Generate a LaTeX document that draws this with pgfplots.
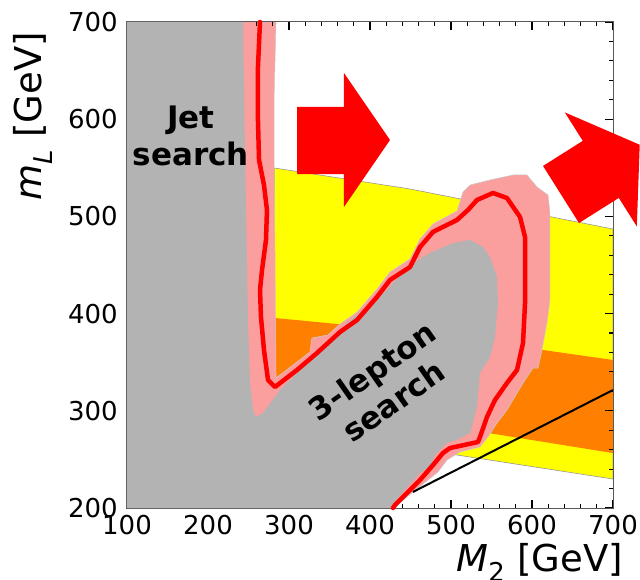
\documentclass[border=0pt]{standalone}
\usepackage{fontspec}
\setmainfont{DejaVu Sans}
\usepackage{pgfplots}
\pgfplotsset{compat=1.18}
\usetikzlibrary{calc}
\definecolor{mygray}{RGB}{179,179,179}
\definecolor{mypink}{RGB}{250,158,158}
\definecolor{myorange}{RGB}{255,128,0}
\definecolor{myyellow}{RGB}{255,255,0}
\pgfplotsset{myframe/.style={
  at={(0pt,0pt)}, anchor=south west,
  scale only axis, width=486pt, height=486pt,
  xmin=100, xmax=700, ymin=200, ymax=700,
  clip=false}}
\begin{document}
\begin{tikzpicture}
% background bands (below the ticks)
\begin{axis}[myframe, hide axis]
\addplot[fill=myyellow, draw=gray!80, line width=0.6pt] coordinates {
 (282,549.8) (449.4,528.2) (700,487.0) (700,229.8) (498.8,255.6) (282,283.4) (282,549.8)};
\addplot[fill=myorange, draw=none] coordinates {
 (282.7,395.5) (450,382) (700,352.3) (700,256.5) (545.7,277.2) (282.7,312.7) (282.7,395.5)};
\addplot[fill=mypink, draw=gray!40, line width=0.5pt] coordinates {
 (243.2,700) (284.0,700) (281.5,619.8) (281.5,547.7) (282.7,465.4) (284.0,333.7)
 (309.9,350.2) (325.9,360.5) (328.4,374.9) (348.1,378.0) (363.0,389.3) (384.0,401.6)
 (408.6,425.3) (424.7,442.8) (449.4,456.2) (461.7,476.8) (477.8,492.2) (507.4,505.6)
 (514.8,525.1) (523.5,532.3) (548.1,537.5) (576.5,542.6) (593.8,542.6) (606.2,530.3)
 (619.8,522.0) (622.2,503.5) (622.2,414.0) (618.5,390.3) (612.3,362.6) (607.4,344.0)
 (601.2,344.0) (588.9,328.6) (569.1,300.8) (556.8,287.5) (545.7,273.0) (535.8,262.8)
 (511.1,257.6) (495.1,249.4) (483.9,237.0) (453.1,216.5) (437.0,205.2) (430.9,200)
 (100,200) (100,700) (243.2,700)};
\end{axis}
\begin{axis}[myframe,
  xtick={100,200,...,700}, ytick={200,300,...,700},
  minor xtick={120,140,...,680}, minor ytick={220,240,...,680},
  tick align=inside,
  xtick pos=both, ytick pos=both,
  major tick length=8pt, minor tick length=4.5pt,
  tick style={black, line width=1.1pt},
  axis line style={black!65, line width=1pt},
  /pgf/number format/assume math mode=true,
  ticklabel style={font=\fontsize{26}{26}\selectfont, inner sep=0pt},
  xticklabel style={anchor=north, yshift=-7pt},
  yticklabel style={anchor=east, xshift=-9pt},
]
% gray excluded regions
\addplot[fill=mygray, draw=none] coordinates {
 (100,700) (243.2,700) (245.7,568.3) (249.4,390.3) (251.9,328.6) (255.6,300.8)
 (259.3,293.6) (267.9,297.7) (288.9,321.4) (329.6,355.4) (371.6,390.3) (421.0,424.3)
 (445.7,447.9) (474.1,462.3) (502.5,472.6) (523.5,475.7) (539.5,468.5) (548.1,458.2)
 (556.8,437.7) (558.0,410.9) (554.3,375.9) (548.1,355.3) (535.8,338.9) (532.1,303.9)
 (523.5,277.2) (507.4,270.0) (495.1,266.9) (480.2,254.5) (474.1,242.2) (461.7,236.0)
 (445.7,221.6) (427.2,203.1) (424.7,200) (100,200) (100,700)};
% black line
\addplot[black, line width=2pt] coordinates {(453,216.5) (700,321.4)};
% red contour
\addplot[red, line width=4.5pt, line join=round, line cap=round] coordinates {
 (264.2,700) (261.7,653.7) (261.7,599.2) (263.0,558.0) (269.1,532.3) (272.8,506.6)
 (271.6,475.7) (266.7,444.9) (264.2,424.3) (265.4,396.5) (269.1,362.6) (274.1,331.7)
 (282.7,324.5) (309.9,342.0) (334.6,359.5) (363.0,381.1) (384.0,393.4) (408.6,417.1)
 (424.7,434.6) (449.4,447.9) (461.7,468.5) (477.8,484.0) (507.4,496.3) (521.0,506.6)
 (532.1,516.9) (551.9,524.1) (569.1,518.9) (585.2,499.4) (591.4,478.8) (591.4,410.9)
 (588.9,369.8) (581.5,342.0) (569.1,328.6) (554.3,311.1) (544.4,293.6) (535.8,273.0)
 (533.3,267.9) (498.8,261.7) (490.1,256.6) (477.8,244.2) (461.7,228.8) (445.7,215.4)
 (430.9,203.1) (428.4,200)};
% arrows
\addplot[fill=red, draw=none] coordinates {
 (309.9,612.6) (367.9,612.6) (367.9,647.5) (424.7,578.6) (367.9,509.7) (367.9,543.6) (309.9,543.6) (309.9,612.6)};
\addplot[fill=red, draw=none] coordinates {
 (613.6,551.9) (662.7,577.7) (640.5,607.0) (733.0,573.7) (729.4,489.7) (707.2,519.0) (658.0,493.2) (613.6,551.9)};
% annotations
\node[font=\fontsize{31}{37}\selectfont\bfseries, align=center] at (axis cs:179,582.7) {Jet\\search};
\node[font=\fontsize{31}{37}\selectfont\bfseries, align=center, rotate=35] at (axis cs:416,325.5) {3-lepton\\search};
% labels
\node[anchor=base east, inner sep=0pt, font=\fontsize{37}{37}\selectfont] at ($(rel axis cs:1,0)+(10pt,-63pt)$) {\textit{M}\textsubscript{2} [GeV]};
\node[rotate=90, anchor=base east, inner sep=0pt, font=\fontsize{37}{37}\selectfont] at ($(rel axis cs:0,1)+(-85pt,-10pt)$) {\textit{m}\textsubscript{\textit{L}} [GeV]};
\end{axis}
\pgfresetboundingbox
\path (-127pt,-71pt) rectangle (513pt,508pt);
\end{tikzpicture}
\end{document}
